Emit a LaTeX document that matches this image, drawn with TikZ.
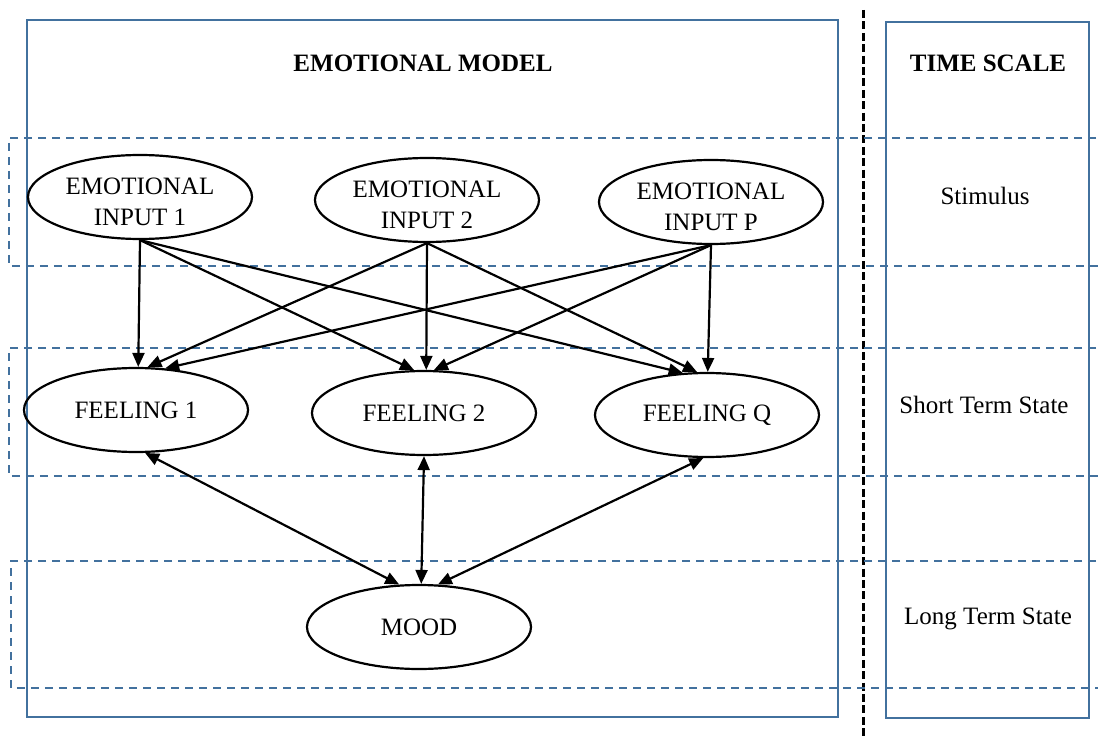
\documentclass[tikz,border=0pt]{standalone}
\usepackage{fontspec}
\setmainfont{Liberation Serif}
\usetikzlibrary{arrows.meta,shapes.geometric}
\definecolor{boxblue}{RGB}{66,113,158}
\begin{document}
\begin{tikzpicture}[x=0.5pt,y=-0.5pt,
  every node/.style={font=\fontsize{12.5}{15.5}\selectfont},
  state/.style={draw,ellipse,line width=1.1pt,minimum width=112pt,minimum height=42pt,inner sep=0pt,align=center},
  input/.style={state,label={[align=center,yshift=-2.5pt]center:#1}},
  frame/.style={draw=boxblue,line width=1.3pt},
  band/.style={draw=boxblue,line width=1.1pt,dash pattern=on 4pt off 3pt},
  link/.style={line width=1.1pt,-{Triangle[length=7pt,width=6pt]}},
  both/.style={line width=1.1pt,{Triangle[length=7pt,width=6pt]}-{Triangle[length=7pt,width=6pt]}}]
\clip (0,0) rectangle (1098,738);

\draw[frame] (27,20) rectangle (838,717);
\draw[frame] (886,22) rectangle (1089,718);
\draw[line width=1.5pt,dash pattern=on 4pt off 1.7pt] (863,10) -- (863,738);

\draw[band] (1110,138) -- (9,138) -- (9,266) -- (1110,266);
\draw[band] (1110,348) -- (9,348) -- (9,476) -- (1110,476);
\draw[band] (1110,561) -- (11,561) -- (11,688) -- (1110,688);

\node[font=\fontsize{12.5}{15.5}\selectfont\bfseries] (title) at (423,63) {EMOTIONAL MODEL};
\node[font=\fontsize{12.5}{15.5}\selectfont\bfseries] (scale) at (988,63) {TIME SCALE};

\node (stim) at (985,196) {Stimulus};
\node (short) at (984,405) {Short Term State};
\node (long) at (988,619) {Long Term State};

\node[input={EMOTIONAL\\INPUT 1}] (ei1) at (140,197) {};
\node[input={EMOTIONAL\\INPUT 2}] (ei2) at (427,200) {};
\node[input={EMOTIONAL\\INPUT P}] (eip) at (711,202) {};

\node[state] (f1) at (136,410) {FEELING 1};
\node[state] (f2) at (424,413) {FEELING 2};
\node[state] (fq) at (707,415) {FEELING Q};

\node[state] (mood) at (419,627) {MOOD};

% inputs to feelings
\draw[link] (ei1.south) -- (f1.87);
\draw[link] (ei1.south) -- (f2.103);
\draw[link] (ei1.south) -- (fq.120);
\draw[link] (ei2.south) -- (f1.75);
\draw[link] (ei2.south) -- (f2.87);
\draw[link] (ei2.south) -- (fq.103);
\draw[link] (eip.south) -- (f1.55);
\draw[link] (eip.south) -- (f2.77);
\draw[link] (eip.south) -- (fq.89);

% feelings and mood
\draw[both] (f1.282) -- (mood.115);
\draw[both] (f2.south) -- (mood.87);
\draw[both] (fq.265) -- (mood.66);
\end{tikzpicture}
\end{document}
